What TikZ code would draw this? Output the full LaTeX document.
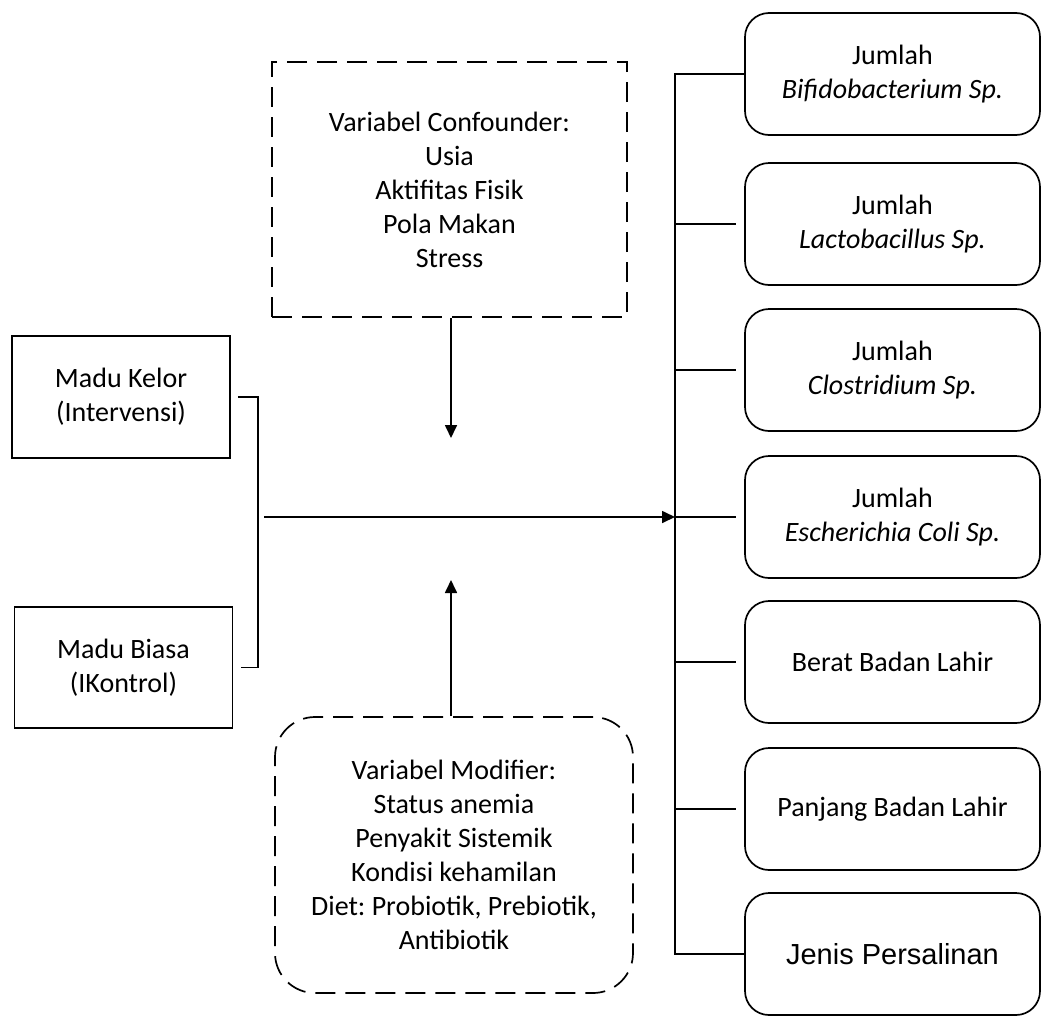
\documentclass[tikz,border=0pt]{standalone}
\usepackage{fontspec}
\setmainfont{Carlito}
\newfontfamily\arialfont{Liberation Sans}
\usetikzlibrary{positioning,shapes,arrows.meta,calc}
\frenchspacing

\tikzset{
  varbox/.style={rectangle,draw,line width=1.7pt,align=center,inner sep=0pt,font=\fontsize{28}{34}\selectfont},
  outbox/.style={varbox,rounded corners=24pt,minimum width=295pt,minimum height=122pt},
  inbox/.style={varbox,minimum width=218pt},
  dashbox/.style={varbox,dash pattern=on 20pt off 10pt},
  conn/.style={line width=1.7pt},
  arr/.style={conn,-{Triangle[length=13pt,width=12pt]}}
}

\begin{document}
\begin{tikzpicture}[x=1pt,y=-1pt]
\useasboundingbox (0,0) rectangle (1041,1015);

\node[inbox,minimum height=122pt] (kelor) at (121,397) {Madu Kelor\\(Intervensi)};
\node[inbox,minimum height=121pt] (biasa) at (123.5,667.5) {Madu Biasa\\(IKontrol)};

\node[dashbox,minimum width=355pt,minimum height=255pt] (conf) at (449.5,189.5) {Variabel Confounder:\\Usia\\Aktifitas Fisik\\Pola Makan\\Stress};
\node[dashbox,rounded corners=40pt,minimum width=358pt,minimum height=276pt] (modif) at (454,855) {Variabel Modifier:\\Status anemia\\Penyakit Sistemik\\Kondisi kehamilan\\Diet: Probiotik, Prebiotik,\\Antibiotik};

% outcome
\node[outbox] (bifido) at (892.5,74) {Jumlah\\\textit{Bifidobacterium Sp.}};
\node[outbox] (lacto) at (892.5,224) {Jumlah\\\textit{Lactobacillus Sp.}};
\node[outbox] (clost) at (892.5,370) {Jumlah\\\textit{Clostridium Sp.}};
\node[outbox] (ecoli) at (892.5,517) {Jumlah\\\textit{Escherichia Coli Sp.}};
\node[outbox] (bbl) at (892.5,662) {Berat Badan Lahir};
\node[outbox] (pbl) at (892.5,809) {Panjang Badan Lahir};
\node[outbox,font=\arialfont\fontsize{29}{34}\selectfont] (persalinan) at (892.5,954) {Jenis Persalinan};

\coordinate (brk) at (258,0);
\coordinate (bus) at (675,0);
\coordinate (mid) at (264,517);
\coordinate (cend) at (451,438);
\coordinate (mend) at (451,580);

\draw[conn] ([xshift=7pt]kelor.east) -- (kelor.east -| brk) -- (biasa.east -| brk) -- ([xshift=8pt]biasa.east);
\draw[arr] (mid) -- (mid -| bus);
\draw[arr] (cend |- conf.south) -- (cend);
\draw[arr] (mend |- modif.north) -- (mend);

\draw[conn] (bifido.west) -| (bus |- persalinan.west) -- (persalinan.west);
\foreach \n in {lacto,clost,ecoli,bbl,pbl}
  \draw[conn] (\n.west -| bus) -- ([xshift=-8pt]\n.west);
\end{tikzpicture}
\end{document}
